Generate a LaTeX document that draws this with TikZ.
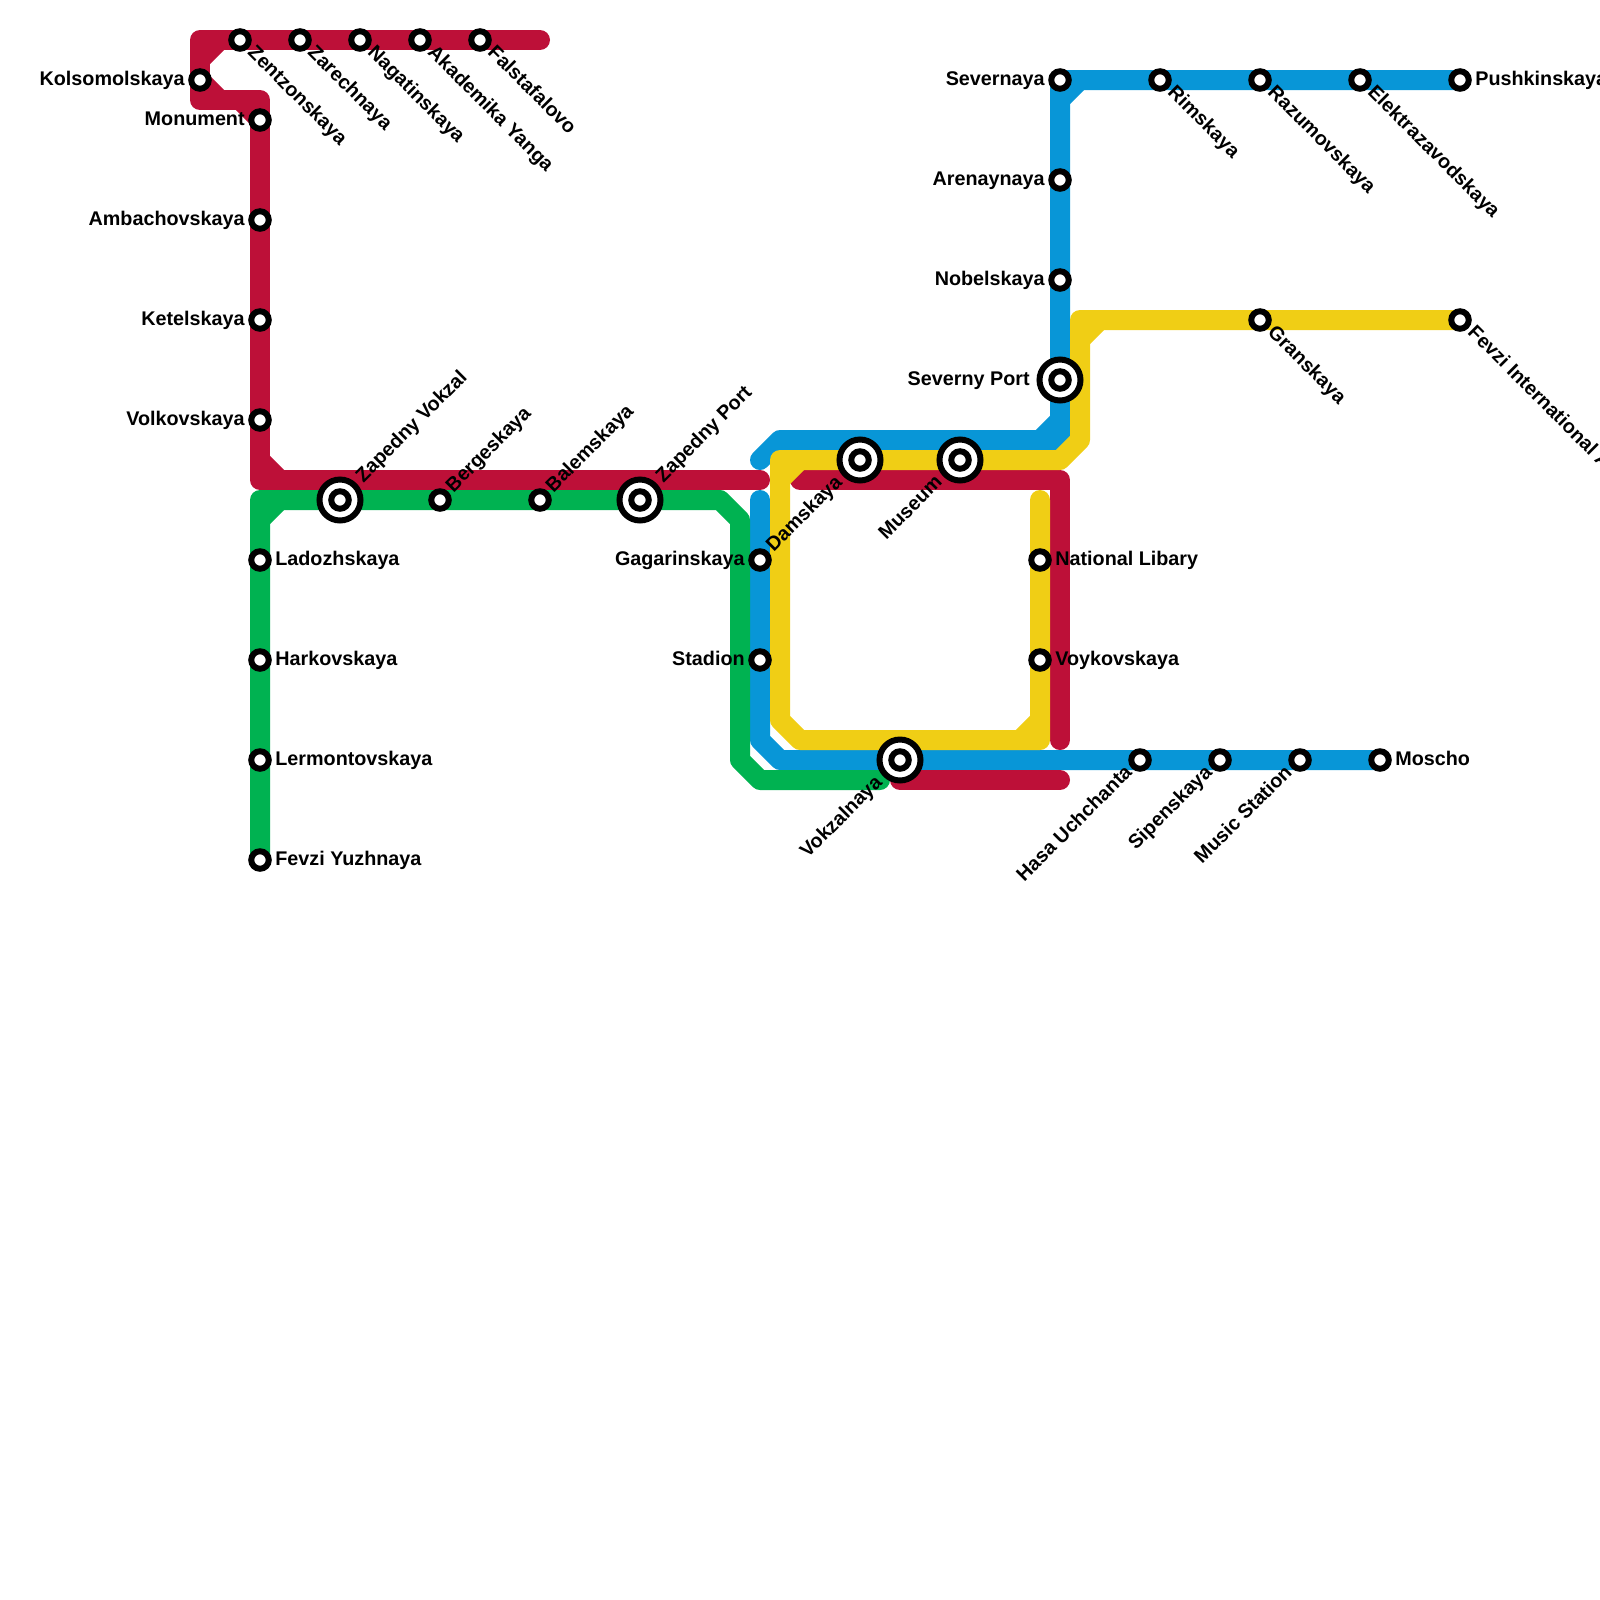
\documentclass[tikz,border=0pt]{standalone}
\usepackage{fontspec}
\setmainfont{Liberation Sans}
\usetikzlibrary{backgrounds}
\definecolor{mred}{HTML}{BD1038}
\definecolor{mgreen}{HTML}{00B251}
\definecolor{mblue}{HTML}{0896D7}
\definecolor{myellow}{HTML}{F0CE15}
\tikzset{
  rail/.style={line width=0.4cm,line cap=round,line join=round},
  stn/.style={circle,draw=black,fill=white,line width=0.12cm,minimum size=0.35cm,inner sep=0pt},
  hub/.style={circle,draw=black,fill=white,line width=0.12cm,minimum size=0.82cm,inner sep=0pt},
  lbl/.style={inner sep=0pt,font=\bfseries\fontsize{11.25pt}{12pt}\selectfont,text=black},
  lE/.style={lbl,anchor=mid west,yshift=-0.02cm},
  lW/.style={lbl,anchor=mid east,yshift=-0.02cm},
  lSE/.style={lbl,anchor=mid west,rotate=-45},
  lNE/.style={lbl,anchor=mid west,rotate=45},
  lSW/.style={lbl,anchor=mid east,rotate=45},
}
% name, x, y, label style, dx, dy, text
\newcommand{\stnat}[7]{%
  \node[stn] (#1) at (#2,#3) {};
  \node[#4] (#1-l) at ([shift={(#5,#6)}]#1.center) {#7};}
\newcommand{\hubat}[7]{%
  \node[hub] (#1) at (#2,#3) {};
  \node[stn] (#1-i) at (#1.center) {};
  \node[#4] (#1-l) at ([shift={(#5,#6)}]#1.center) {#7};}
\begin{document}
\begin{tikzpicture}[x=0.02cm,y=-0.02cm]
\useasboundingbox (0,0) rectangle (1600,1600);
% corners
\foreach \n/\x/\y in {
  r0/540/40, r1/200/40, r2/200/100, r3/260/100, r4/260/480, rA/200/60, rB/220/40, rC/200/80, rD/220/100,
  rE/240/100, rF/260/120, rG/260/460, rH/280/480, rEnd/760/480,
  rs/800/480, rt/1060/480, ru/1060/740, rv/900/780, rw/1060/780,
  g1/260/500, g2/720/500, g3/740/520, g4/740/760, g5/760/780, g6/880/780, gA/260/520, gB/280/500,
  b1/760/460, b2/780/440, b3/1060/440, b4/1060/80, bA/1040/440, bB/1060/420, bC/1060/100, bD/1080/80,
  c1/760/500, c2/760/740, c3/780/760,
  y1/1040/500, y2/1040/740, y3/800/740, y4/780/720, y5/780/460, y6/1060/460, y7/1080/440, y8/1080/320,
  yA/1020/740, yB/1040/720, yC/780/480, yD/800/460, yE/1080/340, yF/1100/320}
  {\coordinate (\n) at (\x,\y);}
% red top and left stations
\stnat{zen}{240}{40}{lSE}{10}{10}{Zentzonskaya}
\stnat{zar}{300}{40}{lSE}{10}{10}{Zarechnaya}
\stnat{nag}{360}{40}{lSE}{10}{10}{Nagatinskaya}
\stnat{aka}{420}{40}{lSE}{10}{10}{Akademika Yanga}
\stnat{fal}{480}{40}{lSE}{10}{10}{Falstafalovo}
\stnat{kol}{200}{80}{lW}{-15}{0}{Kolsomolskaya}
\stnat{mon}{260}{120}{lW}{-15}{0}{Monument}
\stnat{amb}{260}{220}{lW}{-15}{0}{Ambachovskaya}
\stnat{ket}{260}{320}{lW}{-15}{0}{Ketelskaya}
\stnat{vol}{260}{420}{lW}{-15}{0}{Volkovskaya}
% green
\hubat{zvk}{340}{500}{lNE}{20}{-20}{Zapedny Vokzal}
\stnat{ber}{440}{500}{lNE}{10}{-10}{Bergeskaya}
\stnat{bal}{540}{500}{lNE}{10}{-10}{Balemskaya}
\hubat{zpt}{640}{500}{lNE}{20}{-20}{Zapedny Port}
\stnat{lad}{260}{560}{lE}{15}{0}{Ladozhskaya}
\stnat{har}{260}{660}{lE}{15}{0}{Harkovskaya}
\stnat{ler}{260}{760}{lE}{15}{0}{Lermontovskaya}
\stnat{fyu}{260}{860}{lE}{15}{0}{Fevzi Yuzhnaya}
% blue lower
\stnat{gag}{760}{560}{lW}{-15}{0}{Gagarinskaya}
\stnat{sta}{760}{660}{lW}{-15}{0}{Stadion}
\hubat{vok}{900}{760}{lSW}{-20}{20}{Vokzalnaya}
\stnat{has}{1140}{760}{lSW}{-10}{10}{Hasa Uchchanta}
\stnat{sip}{1220}{760}{lSW}{-10}{10}{Sipenskaya}
\stnat{mus}{1300}{760}{lSW}{-10}{10}{Music Station}
\stnat{mos}{1380}{760}{lE}{15}{0}{Moscho}
% centre
\hubat{dam}{860}{460}{lSW}{-20}{20}{Damskaya}
\hubat{msm}{960}{460}{lSW}{-20}{20}{Museum}
\stnat{nat}{1040}{560}{lE}{15}{0}{National Libary}
\stnat{voy}{1040}{660}{lE}{15}{0}{Voykovskaya}
% blue upper
\stnat{sev}{1060}{80}{lW}{-15}{0}{Severnaya}
\stnat{are}{1060}{180}{lW}{-15}{0}{Arenaynaya}
\stnat{nob}{1060}{280}{lW}{-15}{0}{Nobelskaya}
\hubat{spt}{1060}{380}{lW}{-30}{0}{Severny Port}
\stnat{rim}{1160}{80}{lSE}{10}{10}{Rimskaya}
\stnat{raz}{1260}{80}{lSE}{10}{10}{Razumovskaya}
\stnat{ele}{1360}{80}{lSE}{10}{10}{Elektrazavodskaya}
\stnat{pus}{1460}{80}{lE}{15}{0}{Pushkinskaya}
% yellow
\stnat{gra}{1260}{320}{lSE}{10}{10}{Granskaya}
\stnat{fin}{1460}{320}{lSE}{10}{10}{Fevzi International Airport}
\begin{pgfonlayer}{background}
  % blue
  \draw[rail,mblue] (b1) -- (b2) -- (b3) -- (b4) -- (pus.center);
  \draw[rail,mblue] (bA) -- (bB) (bC) -- (bD);
  \draw[rail,mblue] (c1) -- (c2) -- (c3) -- (mos.center);
  % green
  \draw[rail,mgreen] (fyu.center) -- (g1) -- (g2) -- (g3) -- (g4) -- (g5) -- (g6);
  \draw[rail,mgreen] (gA) -- (gB);
  % red
  \draw[rail,mred] (r0) -- (r1) -- (r2) -- (r3) -- (r4) -- (rEnd);
  \draw[rail,mred] (rA) -- (rB) (rC) -- (rD) (rE) -- (rF) (rG) -- (rH);
  \draw[rail,mred] (rs) -- (rt) -- (ru);
  \draw[rail,mred] (rv) -- (rw);
  % yellow
  \draw[rail,myellow] (y1) -- (y2) -- (y3) -- (y4) -- (y5) -- (y6) -- (y7) -- (y8) -- (fin.center);
  \draw[rail,myellow] (yA) -- (yB) (yC) -- (yD) (yE) -- (yF);
\end{pgfonlayer}
\end{tikzpicture}
\end{document}
